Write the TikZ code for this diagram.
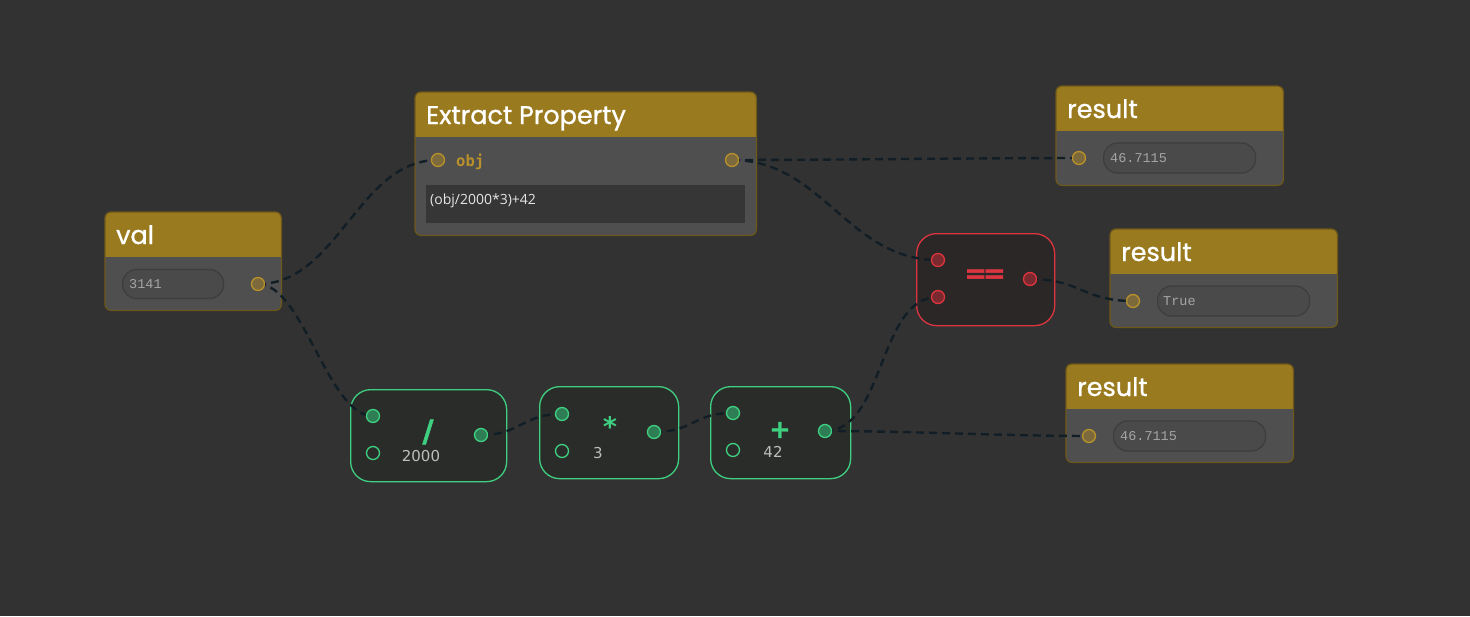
\documentclass[tikz,border=0pt]{standalone}
\usepackage{fontspec}
\setmainfont{Poppins}
\newfontfamily\ftitle[FakeBold=0.9]{Poppins}
\newfontfamily\fmono{Liberation Mono}
\newfontfamily\fdjmono{DejaVu Sans Mono}
\newfontfamily\fdjsans{DejaVu Sans}
\newfontfamily\fsym[FakeBold=1.6]{DejaVu Sans}
\newfontfamily\fopen{Open Sans}
\usetikzlibrary{calc}
\definecolor{bgc}{HTML}{323232}
\definecolor{bodyc}{HTML}{4F4F4F}
\definecolor{headc}{HTML}{9A7A1F}
\definecolor{ybord}{HTML}{6E5819}
\definecolor{yportf}{HTML}{7D6A3C}
\definecolor{yportd}{HTML}{B8912A}
\definecolor{fieldf}{HTML}{4A4A4A}
\definecolor{fieldd}{HTML}{3D3D3D}
\definecolor{ftxt}{HTML}{A5A5A5}
\definecolor{boxc}{HTML}{363636}
\definecolor{wirec}{HTML}{121E26}
\definecolor{gbody}{HTML}{2A2C2A}
\definecolor{gline}{HTML}{3ECF80}
\definecolor{gportf}{HTML}{2E7D55}
\definecolor{rbody}{HTML}{2B2727}
\definecolor{rline}{HTML}{DC3540}
\definecolor{rportf}{HTML}{7A2A2E}
\definecolor{numc}{HTML}{BDBDBD}
\definecolor{objc}{HTML}{B8912A}
\pgfdeclarelayer{back}
\pgfdeclarelayer{wires}
\pgfsetlayers{back,wires,main}
\tikzset{
  ybody/.style={rectangle, rounded corners=6pt, fill=bodyc, inner sep=0pt, anchor=north west},
  yborder/.style={draw=ybord, line width=1.2pt},
  ytitle/.style={text=white, font=\ftitle\fontsize{25.5}{25.5}\selectfont, inner sep=0pt, anchor=base west},
  yport/.style={circle, minimum size=13pt, inner sep=0pt, fill=yportf, draw=yportd, line width=1.3pt},
  field/.style={rectangle, rounded corners=14pt, fill=fieldf, draw=fieldd, line width=1.2pt, inner sep=0pt, anchor=west},
  ftext/.style={text=ftxt, font=\fmono\fontsize{13.5}{13.5}\selectfont, inner sep=0pt, anchor=west},
  wire/.style={draw=wirec, line width=2.4pt, dash pattern=on 8pt off 5pt},
  gnode/.style={rectangle, rounded corners=20pt, fill=gbody, draw=gline, line width=1.3pt, inner sep=0pt, anchor=north west},
  rnode/.style={rectangle, rounded corners=20pt, fill=rbody, draw=rline, line width=1.3pt, inner sep=0pt, anchor=north west},
  gport/.style={circle, minimum size=13pt, inner sep=0pt, fill=gportf, draw=gline, line width=1.3pt},
  gportin/.style={circle, minimum size=13pt, inner sep=0pt, fill=gbody, draw=gline, line width=1.3pt},
  rport/.style={circle, minimum size=13pt, inner sep=0pt, fill=rportf, draw=rline, line width=1.3pt},
  numtext/.style={text=numc, font=\fdjsans\fontsize{15}{15}\selectfont, inner sep=0pt, anchor=base},
  symg/.style={text=gline, inner sep=0pt},
}
\newcommand\mkynode[6]{%
  \begin{pgfonlayer}{back}
  \node[ybody, minimum width=#4pt, minimum height=#5pt] (#1) at (#2,#3) {};
  \begin{scope}
    \clip[rounded corners=6pt] (#1.south west) rectangle (#1.north east);
    \fill[headc] (#1.north west) rectangle ($(#1.north east)+(0,45)$);
  \end{scope}
  \draw[yborder, rounded corners=6pt] (#1.south west) rectangle (#1.north east);
  \node[ytitle] (#1-title) at ($(#1.north west)+(11,32)$) {#6};
  \end{pgfonlayer}
}
\begin{document}
\begin{tikzpicture}[x=1pt,y=-1pt]
\useasboundingbox (0,0) rectangle (1470,616);
\begin{pgfonlayer}{back}
\fill[bgc] (0,0) rectangle (1470,616);
\end{pgfonlayer}

% yellow nodes
\mkynode{val}{105}{212}{176}{98}{val}
\mkynode{ext}{415}{92}{341}{143}{Extract Property}
\mkynode{res1}{1056}{86}{227}{99}{result}
\mkynode{res2}{1110}{229}{227}{98}{result}
\mkynode{res3}{1066}{364}{227}{98}{result}

\begin{pgfonlayer}{back}
% val field
\node[field, minimum width=101pt, minimum height=29pt] (val-field) at (122,284) {};
\node[ftext] (val-text) at (129,284) {3141};
% extract
\node[text=objc, font=\fdjmono\bfseries\fontsize{15.5}{15.5}\selectfont, inner sep=0pt, anchor=base west] (ext-obj) at (456,166) {obj};
\node[rectangle, fill=boxc, minimum width=319pt, minimum height=38pt, inner sep=0pt, anchor=north west] (ext-box) at (426,185) {};
\node[text=white!90!black, font=\fopen\fontsize{14}{14}\selectfont, inner sep=0pt, anchor=base west] (ext-expr) at (430,204) {(obj/2000*3)+42};
% result fields
\node[field, minimum width=152pt, minimum height=30pt] (res1-field) at (1103,158) {};
\node[ftext] (res1-text) at (1110,158) {46.7115};
\node[field, minimum width=152pt, minimum height=30pt] (res2-field) at (1157,301) {};
\node[ftext] (res2-text) at (1163,301) {True};
\node[field, minimum width=152pt, minimum height=30pt] (res3-field) at (1113,436) {};
\node[ftext] (res3-text) at (1120,436) {46.7115};

% green nodes
\node[gnode, minimum width=156pt, minimum height=92pt] (div) at (350,389) {};
\node[gnode, minimum width=139pt, minimum height=92pt] (mul) at (539,386) {};
\node[gnode, minimum width=140pt, minimum height=92pt] (add) at (710,386) {};
\node[rnode, minimum width=138pt, minimum height=92pt] (eq) at (916,233) {};

\node[symg, font=\fsym\bfseries\fontsize{30}{30}\selectfont] (div-sym) at (428,432) {/};
\node[numtext] (div-num) at (421,461) {2000};
\node[symg, font=\fdjmono\bfseries\fontsize{27}{27}\selectfont] (mul-sym) at (610,426) {*};
\node[numtext] (mul-num) at (598,458) {3};
\node[symg, font=\fsym\bfseries\fontsize{25}{25}\selectfont] (add-sym) at (780,430) {+};
\node[numtext] (add-num) at (773,457) {42};
\node[text=rline, font=\fsym\bfseries\fontsize{27}{27}\selectfont, inner sep=0pt] (eq-sym) at (985,276) {=\kern-4pt=};
\end{pgfonlayer}

% ports
\node[yport] (val-out) at (258,284) {};
\node[yport] (ext-in) at (438,160) {};
\node[yport] (ext-out) at (732,160) {};
\node[yport] (res1-in) at (1079,158) {};
\node[yport] (res2-in) at (1133,301) {};
\node[yport] (res3-in) at (1089,436) {};
\node[gport] (div-in1) at (373,416) {};
\node[gportin] (div-in2) at (373,453) {};
\node[gport] (div-out) at (481,435) {};
\node[gport] (mul-in1) at (562,414) {};
\node[gportin] (mul-in2) at (562,451) {};
\node[gport] (mul-out) at (654,432) {};
\node[gport] (add-in1) at (733,413) {};
\node[gportin] (add-in2) at (733,450) {};
\node[gport] (add-out) at (825,431) {};
\node[rport] (eq-in1) at (938,260) {};
\node[rport] (eq-in2) at (938,297) {};
\node[rport] (eq-out) at (1030,279) {};

% wires
\begin{pgfonlayer}{wires}
\draw[wire] (val-out.center) .. controls +(80,0) and +(-80,0) .. (ext-in.center);
\draw[wire] (val-out.center) .. controls +(45,0) and +(-45,0) .. (div-in1.center);
\draw[wire] (ext-out.center) .. controls +(80,0) and +(-80,0) .. (res1-in.center);
\draw[wire] (ext-out.center) .. controls +(90,0) and +(-90,0) .. (eq-in1.center);
\draw[wire] (eq-out.center) .. controls +(50,0) and +(-50,0) .. (res2-in.center);
\draw[wire] (div-out.center) .. controls +(40,0) and +(-40,0) .. (mul-in1.center);
\draw[wire] (mul-out.center) .. controls +(40,0) and +(-40,0) .. (add-in1.center);
\draw[wire] (add-out.center) .. controls +(60,0) and +(-60,0) .. (eq-in2.center);
\draw[wire] (add-out.center) .. controls +(80,0) and +(-80,0) .. (res3-in.center);
\end{pgfonlayer}
\end{tikzpicture}
\end{document}
